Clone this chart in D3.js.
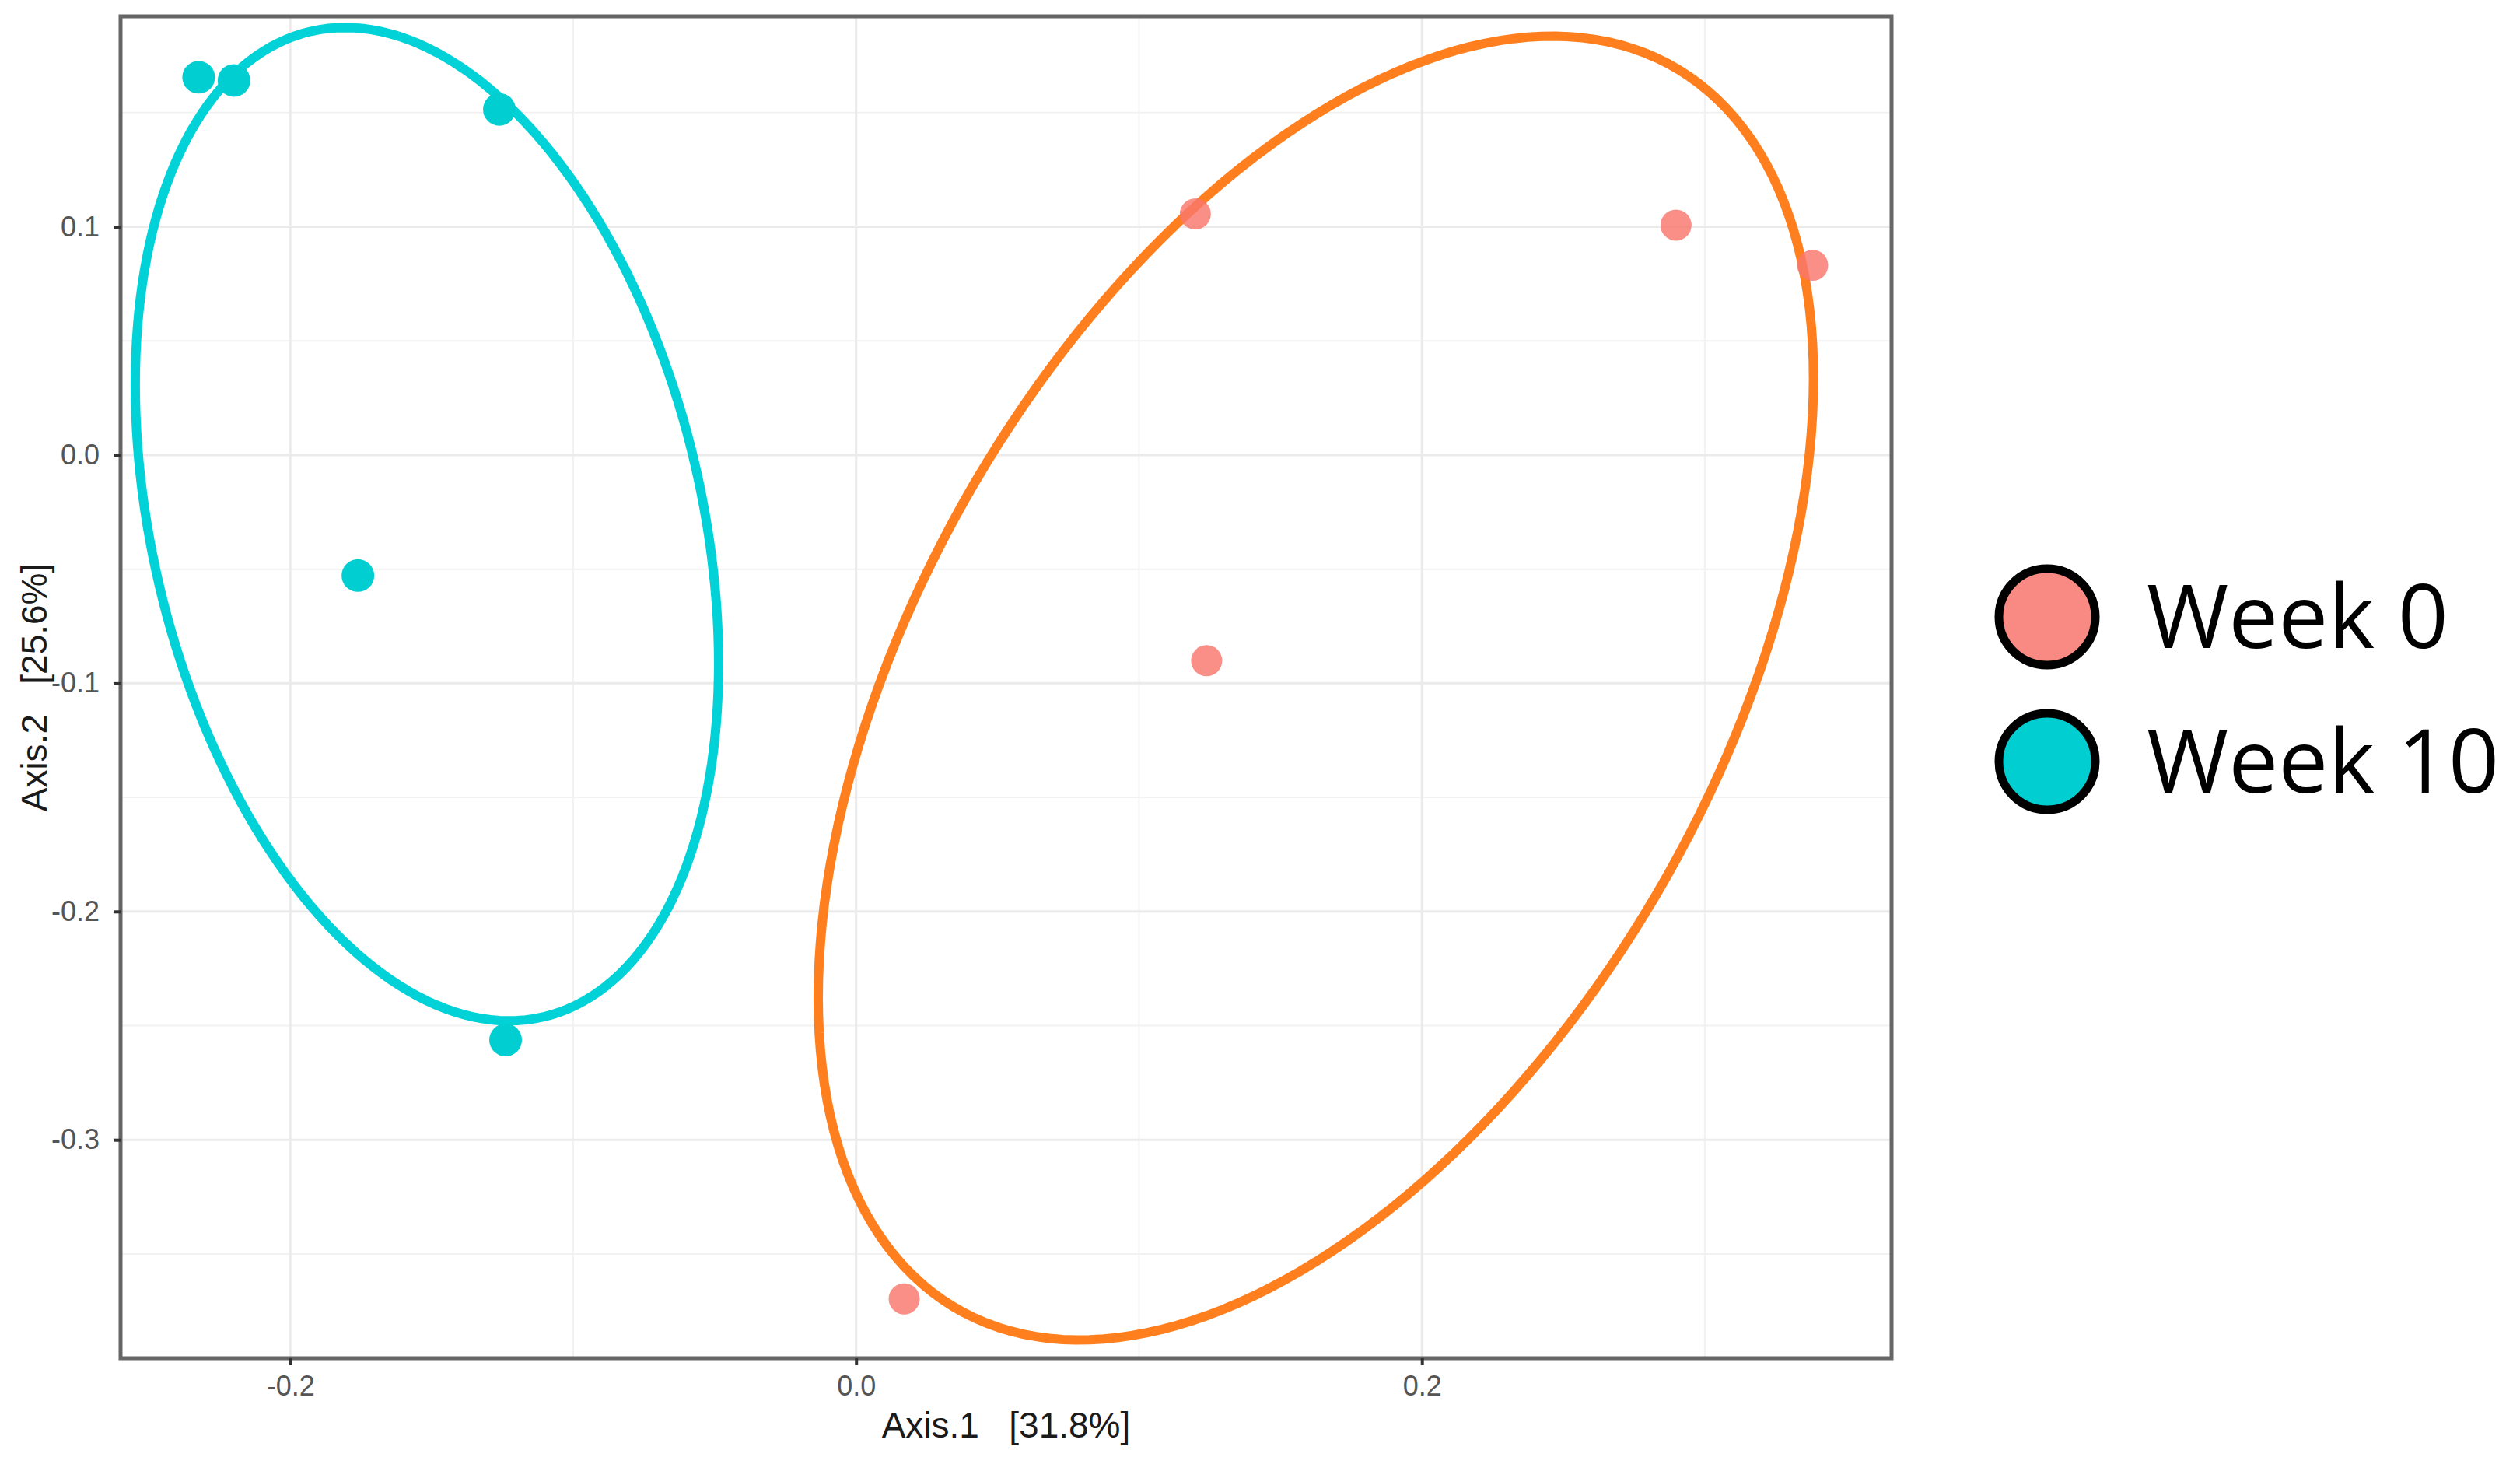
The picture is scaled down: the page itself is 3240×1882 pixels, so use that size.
<!DOCTYPE html>
<meta charset="utf-8">
<head>
    <title>PCoA</title>
</head>
<style>
 body { margin: 0; background: white; }
 .grid-major { stroke: #ebebeb; stroke-width: 3px; }
 .grid-minor { stroke: #f2f2f2; stroke-width: 2px; }
 .tick-label { font-family: "Liberation Sans", Arial, sans-serif; font-size: 36px; fill: #555; }
 .axis-title { font-family: "Liberation Sans", Arial, sans-serif; font-size: 46px; fill: #1a1a1a; white-space: pre; }
 .legend-label { font-family: "Open Sans", sans-serif; font-size: 114px; fill: black; }
</style>
<body>
    <div id="chart"></div>
    <script src="https://d3js.org/d3.v7.min.js"></script>
    <script>

     // data
     var groups = ["Week 0", "Week 10"];
     var colors = ["#f8766d", "#00ced1"];
     var ellipseColors = ["#ff7f1e", "#00d2d8"];

     var week0X = [0.1199, 0.2898, 0.3381, 0.1239, 0.0170];
     var week0Y = [0.1056, 0.1007, 0.0831, -0.0901, -0.3697];
     var week10X = [-0.2324, -0.2199, -0.1261, -0.1761, -0.1239];
     var week10Y = [0.1655, 0.1641, 0.1514, -0.0528, -0.2563];

     // ellipse centre, spread and correlation (data units)
     var ellipseCx = [0.1625, -0.1517];
     var ellipseCy = [-0.1021, -0.0303];
     var ellipseSx = [0.1759, 0.1031];
     var ellipseSy = [0.2856, 0.2176];
     var ellipseR = [0.475, -0.281];

     var xTicks = [-0.2, 0.0, 0.2];
     var xMinor = [-0.1, 0.1, 0.3];
     var yTicks = [-0.3, -0.2, -0.1, 0.0, 0.1];
     var yMinor = [-0.35, -0.25, -0.15, -0.05, 0.05, 0.15];

     var width = 3240,
         height = 1882;

     var svg = d3.select("#chart").append("svg")
                 .attr("width", width)
                 .attr("height", height);

     var pLeft = 155, pRight = 2432, pTop = 21, pBottom = 1746;

     var x = d3.scaleLinear().domain([-0.260, 0.366]).range([pLeft, pRight]);
     var y = d3.scaleLinear().domain([-0.3957, 0.1922]).range([pBottom, pTop]);

     // grid
     svg.append("g").selectAll("line")
        .data(xMinor).enter().append("line")
        .attr("class", "grid-minor")
        .attr("x1", x).attr("x2", x)
        .attr("y1", pTop).attr("y2", pBottom);
     svg.append("g").selectAll("line")
        .data(yMinor).enter().append("line")
        .attr("class", "grid-minor")
        .attr("y1", y).attr("y2", y)
        .attr("x1", pLeft).attr("x2", pRight);
     svg.append("g").selectAll("line")
        .data(xTicks).enter().append("line")
        .attr("class", "grid-major")
        .attr("x1", x).attr("x2", x)
        .attr("y1", pTop).attr("y2", pBottom);
     svg.append("g").selectAll("line")
        .data(yTicks).enter().append("line")
        .attr("class", "grid-major")
        .attr("y1", y).attr("y2", y)
        .attr("x1", pLeft).attr("x2", pRight);

     // ellipses
     var line = d3.line()
                  .x(function(d) { return x(d[0]); })
                  .y(function(d) { return y(d[1]); })
                  .curve(d3.curveLinearClosed);

     function ellipsePoints(i) {
         var pts = [];
         var q = Math.sqrt(1 - ellipseR[i] * ellipseR[i]);
         for (var k = 0; k < 200; k++) {
             var t = k / 200 * 2 * Math.PI;
             pts.push([ellipseCx[i] + ellipseSx[i] * Math.cos(t),
                       ellipseCy[i] + ellipseSy[i] * (ellipseR[i] * Math.cos(t) + q * Math.sin(t))]);
         }
         return pts;
     }

     svg.append("g").selectAll("path")
        .data([0, 1]).enter().append("path")
        .attr("d", function(i) { return line(ellipsePoints(i)); })
        .attr("fill", "none")
        .attr("stroke", function(i) { return ellipseColors[i]; })
        .attr("stroke-width", 12);

     // points
     var pts0 = week0X.map(function(v, i) { return [v, week0Y[i]]; });
     var pts10 = week10X.map(function(v, i) { return [v, week10Y[i]]; });

     svg.append("g").selectAll("circle")
        .data(pts0).enter().append("circle")
        .attr("cx", function(d) { return x(d[0]); })
        .attr("cy", function(d) { return y(d[1]); })
        .attr("r", 20)
        .attr("fill", colors[0])
        .attr("fill-opacity", 0.82);

     svg.append("g").selectAll("circle")
        .data(pts10).enter().append("circle")
        .attr("cx", function(d) { return x(d[0]); })
        .attr("cy", function(d) { return y(d[1]); })
        .attr("r", 21)
        .attr("fill", colors[1]);

     // panel border
     svg.append("rect")
        .attr("x", pLeft).attr("y", pTop)
        .attr("width", pRight - pLeft).attr("height", pBottom - pTop)
        .attr("fill", "none")
        .attr("stroke", "#666")
        .attr("stroke-width", 5);

     // axes
     var fmt = function(d) { return d3.format(".1f")(d).replace("−", "-"); };
     var xAxis = svg.append("g")
                    .attr("transform", "translate(0," + pBottom + ")")
                    .call(d3.axisBottom(x).tickValues(xTicks).tickSize(9).tickPadding(13)
                            .tickFormat(fmt));
     var yAxis = svg.append("g")
                    .attr("transform", "translate(" + pLeft + ",0)")
                    .call(d3.axisLeft(y).tickValues(yTicks).tickSize(9).tickPadding(18)
                            .tickFormat(fmt));

     [xAxis, yAxis].forEach(function(a) {
         a.select(".domain").remove();
         a.selectAll(".tick line").attr("stroke", "#333").attr("stroke-width", 4);
         a.selectAll(".tick text").attr("class", "tick-label")
          .attr("font-family", null).attr("font-size", null).attr("fill", null);
     });

     svg.append("text")
        .attr("class", "axis-title")
        .attr("x", (pLeft + pRight) / 2)
        .attr("y", 1848)
        .attr("text-anchor", "middle")
        .text("Axis.1   [31.8%]");

     svg.append("text")
        .attr("class", "axis-title")
        .attr("transform", "translate(60," + ((pTop + pBottom) / 2) + ") rotate(-90)")
        .attr("text-anchor", "middle")
        .text("Axis.2   [25.6%]");

     // legend
     var legend = svg.append("g").selectAll("g")
                     .data(groups).enter().append("g")
                     .attr("transform", function(d, i) {
                         return "translate(2632," + (793 + i * 186) + ")";
                     });

     legend.append("circle")
           .attr("r", 62)
           .attr("fill", function(d, i) { return colors[i]; })
           .attr("fill-opacity", function(d, i) { return i === 0 ? 0.85 : 1; })
           .attr("stroke", "black")
           .attr("stroke-width", 11);

     legend.append("text")
           .attr("class", "legend-label")
           .attr("x", 128)
           .attr("dy", "0.35em")
           .text(function(d) { return d; });

    </script>
</body>
